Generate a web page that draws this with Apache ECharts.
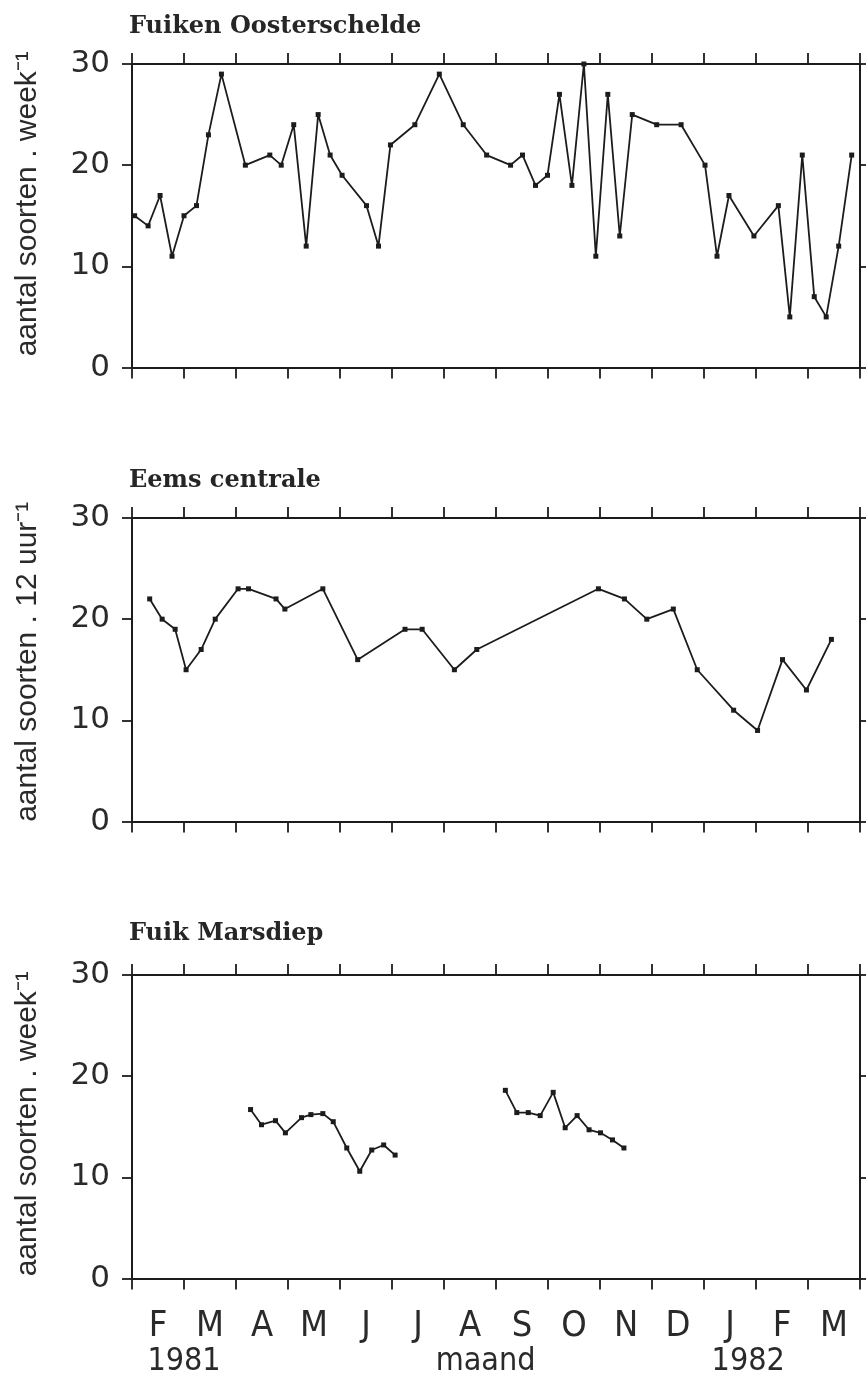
<!DOCTYPE html>
<html><head><meta charset="utf-8">
<script src="https://cdn.jsdelivr.net/npm/echarts@6/dist/echarts.min.js"></script>
<style>html,body{margin:0;padding:0;background:#fff}#c{width:866px;height:1383px}</style>
</head><body><div id="c"></div>
<script>
// ---- tick / category labels ----
const monthLabels = ['F','M','A','M','J','J','A','S','O','N','D','J','F','M'];
const yearLabels = ['1981','maand','1982'];
const panelTitles = ['Fuiken Oosterschelde','Eems centrale','Fuik Marsdiep'];
const yAxisNames = ['aantal soorten . week\u207B\u00B9','aantal soorten . 12 uur\u207B\u00B9','aantal soorten . week\u207B\u00B9'];

// ---- data: x in months since 1 Feb 1981, y = number of species ----
const oosterscheldeMonth = [0.05,0.31,0.54,0.77,1.00,1.24,1.47,1.72,2.18,2.65,2.87,3.11,3.35,3.58,3.81,4.04,4.51,4.74,4.97,5.44,5.91,6.37,6.82,7.28,7.51,7.76,7.99,8.22,8.46,8.69,8.92,9.15,9.38,9.62,10.09,10.56,11.02,11.25,11.48,11.96,12.43,12.65,12.89,13.12,13.35,13.59,13.84];
const oosterscheldeCount = [15,14,17,11,15,16,23,29,20,21,20,24,12,25,21,19,16,12,22,24,29,24,21,20,21,18,19,27,18,30,11,27,13,25,24,24,20,11,17,13,16,5,21,7,5,12,21];

const eemsMonth = [0.34,0.58,0.83,1.04,1.33,1.60,2.04,2.24,2.77,2.94,3.67,4.34,5.25,5.58,6.20,6.63,8.97,9.47,9.90,10.41,10.87,11.57,12.03,12.51,12.97,13.45];
const eemsCount = [22,20,19,15,17,20,23,23,22,21,23,16,19,19,15,17,23,22,20,21,15,11,9,16,13,18];

const marsdiepMonthA = [2.28,2.49,2.76,2.95,3.26,3.44,3.67,3.87,4.13,4.38,4.61,4.84,5.06];
const marsdiepCountA = [16.7,15.2,15.6,14.4,15.9,16.2,16.3,15.5,12.9,10.6,12.7,13.2,12.2];
const marsdiepMonthB = [7.18,7.40,7.62,7.85,8.10,8.33,8.56,8.79,9.01,9.24,9.46];
const marsdiepCountB = [18.6,16.4,16.4,16.1,18.4,14.9,16.1,14.7,14.4,13.7,12.9];

const zip = (xs, ys) => xs.map((x, i) => [x, ys[i]]);
const panels = [
  [zip(oosterscheldeMonth, oosterscheldeCount)],
  [zip(eemsMonth, eemsCount)],
  [zip(marsdiepMonthA, marsdiepCountA), zip(marsdiepMonthB, marsdiepCountB)]
];

const INK = '#1c1c1c';
const TXT = '#2a2a2a';
const gridTops = [64, 518, 975];
const titleTops = [15, 469, 922];
const nameShift = [24, 16, 6];
const grids = [], xAxes = [], yAxes = [], series = [], titles = [];

gridTops.forEach((t, i) => {
  grids.push({ left: 132, right: 6, top: t, height: 303.5 });
  titles.push({
    text: panelTitles[i], left: 129, top: titleTops[i], padding: 0,
    textStyle: { fontFamily: 'DejaVu Serif', fontSize: 24, fontWeight: 'bold', color: '#262626' }
  });
  const axisLine = { show: true, onZero: false, lineStyle: { color: INK, width: 2 } };
  const tick = { show: true, inside: false, length: 11, lineStyle: { color: INK, width: 1.8 } };
  ['bottom', 'top'].forEach(pos => xAxes.push({
    gridIndex: i, type: 'value', position: pos, min: 0, max: 14, interval: 1,
    axisLine, axisTick: tick, axisLabel: { show: false }, splitLine: { show: false }
  }));
  yAxes.push({
    gridIndex: i, type: 'value', position: 'left', min: 0, max: 30, interval: 10,
    axisLine, axisTick: { ...tick, length: 10 }, splitLine: { show: false },
    axisLabel: { margin: 22, fontSize: 31, fontFamily: 'DejaVu Sans', color: TXT },
    name: yAxisNames[i], nameLocation: 'middle', nameRotate: 90, nameGap: 89,
    nameTextStyle: { fontSize: 30, fontFamily: 'Liberation Sans', color: TXT,
      padding: [0, 0, 0, nameShift[i]] }
  });
  yAxes.push({
    gridIndex: i, type: 'value', position: 'right', min: 0, max: 30, interval: 10,
    axisLine, axisTick: { ...tick, length: 10 }, splitLine: { show: false }, axisLabel: { show: false }
  });
  panels[i].forEach(seg => series.push({
    type: 'line', xAxisIndex: i * 2, yAxisIndex: i * 2, data: seg,
    symbol: 'rect', symbolSize: 5, showSymbol: true,
    lineStyle: { color: INK, width: 1.8 }, itemStyle: { color: INK }, z: 3
  }));
});

// month letters centred in each month interval of the bottom panel
xAxes.push({
  gridIndex: 2, type: 'category', position: 'bottom', data: monthLabels, boundaryGap: true,
  axisLine: { show: false }, axisTick: { show: false }, splitLine: { show: false },
  axisLabel: { interval: 0, margin: 30, fontSize: 36, color: TXT,
    fontFamily: "'Liberation Sans Narrow','DejaVu Sans Condensed','Liberation Sans',sans-serif" }
});
// year / axis-title row
const yearPos = [1, 6.8, 11.85];
xAxes.push({
  gridIndex: 2, type: 'value', position: 'bottom', min: 0, max: 14,
  axisLine: { show: false }, axisTick: { show: false }, splitLine: { show: false },
  axisLabel: {
    customValues: yearPos, margin: 67, fontSize: 32, color: TXT,
    fontFamily: "'Liberation Sans Narrow','DejaVu Sans Condensed','Liberation Sans',sans-serif",
    formatter: v => {
      let best = 0;
      yearPos.forEach((p, k) => { if (Math.abs(p - v) < Math.abs(yearPos[best] - v)) best = k; });
      return yearLabels[best];
    }
  }
});

const chart = echarts.init(document.getElementById('c'), null, { renderer: 'canvas' });
chart.setOption({
  animation: false, backgroundColor: '#fff',
  title: titles, grid: grids, xAxis: xAxes, yAxis: yAxes, series
});
</script></body></html>
